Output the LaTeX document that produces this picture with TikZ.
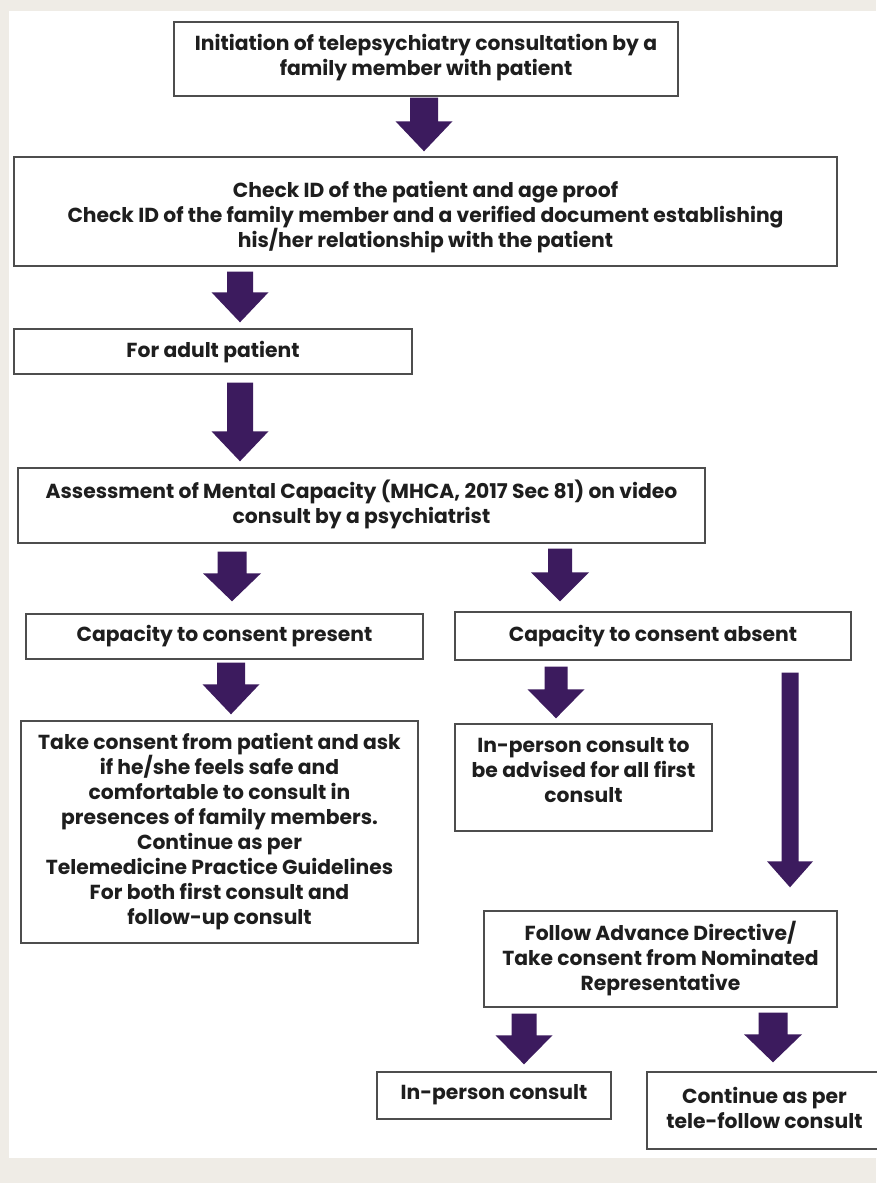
\documentclass[tikz,border=0pt]{standalone}
\usepackage{fontspec}
\setmainfont{Poppins}
\usetikzlibrary{calc}
\definecolor{bgc}{HTML}{EFECE6}
\definecolor{arrc}{HTML}{3C1B5E}
\definecolor{boxc}{HTML}{4D4D4D}
\definecolor{txtc}{HTML}{1E1E1E}
\tikzset{
  flowbox/.style={draw=boxc, line width=1.4pt, fill=white, inner sep=0pt},
  txt/.style={align=center, inner sep=0pt, text=txtc, yshift=-1.5pt, font=\fontsize{20.3}{25}\selectfont\bfseries},
}
% #1 x, #2 from node, #3 to node, #4 shaft half width, #5 head half width, #6 head length, #7 start gap, #8 tip gap
\newcommand\blockarrow[8]{%
  \fill[arrc] let \p1=(#1,0 |- #2.south), \p2=(#1,0 |- #3.north) in
    (\x1-#4pt,\y1-#7pt) -- (\x1+#4pt,\y1-#7pt) -- (\x1+#4pt,\y2+#8pt+#6pt) -- (\x1+#5pt,\y2+#8pt+#6pt)
    -- (\x1,\y2+#8pt) -- (\x1-#5pt,\y2+#8pt+#6pt) -- (\x1-#4pt,\y2+#8pt+#6pt) -- cycle;}
\begin{document}
\begin{tikzpicture}[x=1pt,y=-1pt]
\useasboundingbox (0,0) rectangle (876,1183);
\fill[bgc] (0,0) rectangle (876,1183);
\fill[white] (9,11) rectangle (876,1158);

% boxes
\node[flowbox, minimum width=504pt, minimum height=74pt] (top) at (426,59) {};
\node[flowbox, minimum width=823pt, minimum height=109pt] (check) at (425.5,211.5) {};
\node[flowbox, minimum width=398pt, minimum height=45pt] (adult) at (213,351.5) {};
\node[flowbox, minimum width=687pt, minimum height=75pt] (assess) at (361.5,505.5) {};
\node[flowbox, minimum width=397pt, minimum height=45pt] (present) at (224.5,636.5) {};
\node[flowbox, minimum width=396pt, minimum height=48pt] (absent) at (653,636) {};
\node[flowbox, minimum width=397pt, minimum height=222pt] (take) at (219.5,832) {};
\node[flowbox, minimum width=257pt, minimum height=107pt] (advise) at (583.5,777.5) {};
\node[flowbox, minimum width=353pt, minimum height=96pt] (follow) at (660.5,959) {};
\node[flowbox, minimum width=234pt, minimum height=47pt] (inperson) at (494,1095.5) {};
\node[flowbox, minimum width=235pt, minimum height=77pt] (continue) at (764.5,1110.5) {};

% texts
\node[txt] (toptxt) at (426,56) {Initiation of telepsychiatry consultation by a\\family member with patient};
\node[txt] (checktxt) at (425.5,216) {Check ID of the patient and age proof\\Check ID of the family member and a verified document establishing\\his/her relationship with the patient};
\node[txt] (adulttxt) at (213,351) {For adult patient};
\node[txt] (assesstxt) at (361.5,502.5) {Assessment of Mental Capacity (MHCA, 2017 Sec 81) on video\\consult by a psychiatrist};
\node[txt] (presenttxt) at (224.5,635) {Capacity to consent present};
\node[txt] (absenttxt) at (653,635) {Capacity to consent absent};
\node[txt] (taketxt) at (219.5,830.5) {Take consent from patient and ask\\if he/she feels safe and\\comfortable to consult in\\presences of family members.\\Continue as per\\Telemedicine Practice Guidelines\\For both first consult and\\follow-up consult};
\node[txt] (advisetxt) at (583.5,769) {In-person consult to\\be advised for all first\\consult};
\node[txt] (followtxt) at (660.5,957) {Follow Advance Directive/\\Take consent from Nominated\\Representative};
\node[txt] (inpersontxt) at (494,1093) {In-person consult};
\node[txt] (continuetxt) at (764.5,1106.5) {Continue as per\\tele-follow consult};

% block arrows
\blockarrow{424}{top}{check}{14}{28.5}{30}{1}{5}
\blockarrow{240}{check}{adult}{13}{28.5}{30}{5}{6}
\blockarrow{240}{adult}{assess}{13}{28.5}{30}{8}{6}
\blockarrow{232}{assess}{present}{14.5}{29}{28}{8}{12}
\blockarrow{560}{assess}{absent}{12}{29}{29}{5}{10}
\blockarrow{231}{present}{take}{14}{28.5}{30}{3}{6}
\blockarrow{556}{absent}{advise}{11.5}{28.5}{29}{6}{5}
\blockarrow{790}{absent}{follow}{8.5}{23}{26}{12}{23}
\blockarrow{524}{follow}{inperson}{12.5}{28.5}{29}{6}{7}
\blockarrow{773}{follow}{continue}{14.5}{29}{28}{5}{9}
\end{tikzpicture}
\end{document}
